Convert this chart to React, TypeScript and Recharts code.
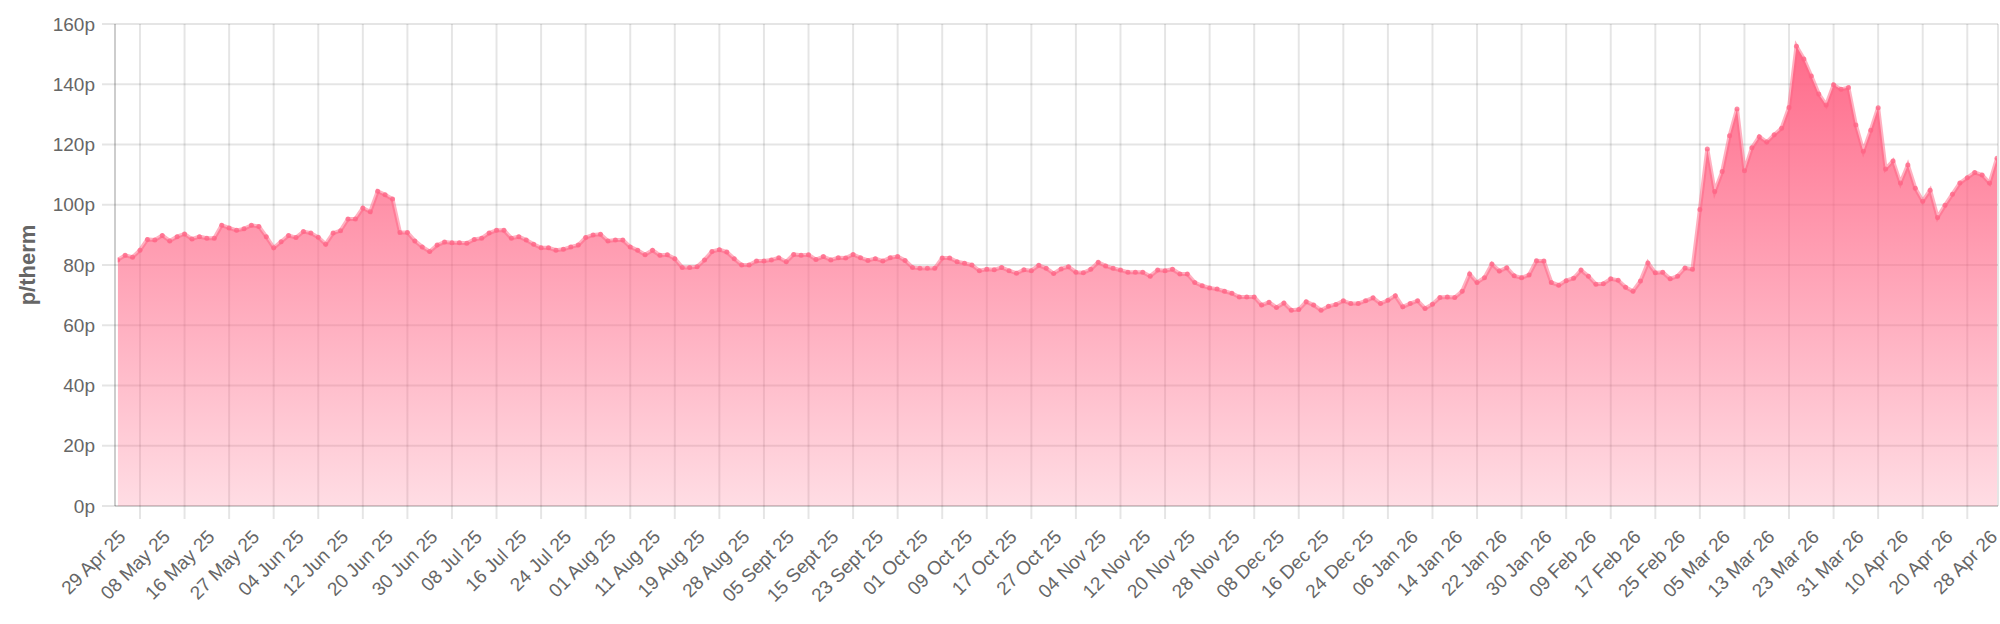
import React from 'react';
import { AreaChart, Area, XAxis, YAxis, CartesianGrid } from 'recharts';

// x-axis labels, one every LABEL_STEP trading days
const tickLabels = [
  '29 Apr 25', '08 May 25', '16 May 25', '27 May 25', '04 Jun 25', '12 Jun 25', '20 Jun 25',
  '30 Jun 25', '08 Jul 25', '16 Jul 25', '24 Jul 25', '01 Aug 25', '11 Aug 25', '19 Aug 25',
  '28 Aug 25', '05 Sept 25', '15 Sept 25', '23 Sept 25', '01 Oct 25', '09 Oct 25', '17 Oct 25',
  '27 Oct 25', '04 Nov 25', '12 Nov 25', '20 Nov 25', '28 Nov 25', '08 Dec 25', '16 Dec 25',
  '24 Dec 25', '06 Jan 26', '14 Jan 26', '22 Jan 26', '30 Jan 26', '09 Feb 26', '17 Feb 26',
  '25 Feb 26', '05 Mar 26', '13 Mar 26', '23 Mar 26', '31 Mar 26', '10 Apr 26', '20 Apr 26',
  '28 Apr 26',
];
const LABEL_STEP = 6;

// daily price, p/therm
const prices = [
  81.7, 83.2, 82.6, 84.9, 88.5, 88.3, 89.8, 88.0, 89.4, 90.3,
  88.6, 89.4, 88.9, 88.9, 93.2, 92.3, 91.5, 92.0, 93.2, 92.8,
  89.4, 85.7, 87.7, 89.8, 89.1, 91.1, 90.6, 89.2, 86.9, 90.6,
  91.4, 95.3, 95.3, 98.9, 97.7, 104.5, 103.3, 101.9, 90.8, 90.8,
  88.0, 86.0, 84.5, 86.6, 87.6, 87.4, 87.4, 87.2, 88.5, 88.9,
  90.6, 91.5, 91.5, 88.9, 89.4, 88.3, 86.9, 85.7, 85.7, 84.9,
  85.2, 86.0, 86.6, 89.1, 90.0, 90.2, 88.0, 88.3, 88.3, 86.0,
  84.9, 83.4, 84.9, 83.2, 83.4, 82.1, 79.2, 79.2, 79.4, 81.7,
  84.5, 85.1, 84.3, 82.1, 80.0, 80.0, 81.3, 81.3, 81.7, 82.4,
  81.1, 83.5, 83.2, 83.4, 81.8, 82.8, 81.7, 82.4, 82.3, 83.5,
  82.4, 81.5, 82.1, 81.3, 82.4, 82.8, 81.5, 79.2, 78.9, 78.9,
  78.9, 82.3, 82.3, 81.1, 80.6, 80.0, 78.1, 78.6, 78.4, 79.2,
  78.1, 77.3, 78.4, 78.1, 79.9, 78.9, 77.2, 78.7, 79.4, 77.6,
  77.4, 78.6, 80.9, 79.7, 78.9, 78.3, 77.6, 77.6, 77.6, 76.3,
  78.3, 78.1, 78.6, 77.0, 77.0, 74.2, 73.1, 72.4, 72.0, 71.3,
  70.6, 69.4, 69.4, 69.4, 66.7, 67.6, 65.9, 67.4, 65.0, 65.2,
  67.8, 66.7, 65.0, 66.3, 66.9, 68.1, 67.2, 67.2, 68.1, 69.1,
  67.2, 68.3, 69.8, 66.1, 67.2, 68.1, 65.6, 67.0, 69.2, 69.4,
  69.2, 71.3, 77.0, 74.2, 75.8, 80.3, 78.0, 79.1, 76.4, 75.8,
  76.7, 81.4, 81.3, 74.2, 73.3, 74.8, 75.6, 78.3, 76.3, 73.6,
  73.8, 75.4, 74.9, 72.6, 71.3, 74.7, 80.7, 77.4, 77.6, 75.4,
  76.3, 79.0, 78.6, 98.4, 118.5, 104.4, 111.0, 122.9, 131.8, 111.3,
  118.9, 122.6, 120.8, 123.2, 125.4, 132.3, 152.6, 148.4, 142.7, 136.8,
  133.1, 139.8, 138.3, 138.9, 126.5, 117.8, 124.7, 132.2, 111.9, 114.5,
  107.2, 113.2, 105.5, 101.2, 104.8, 95.8, 99.8, 103.5, 107.2, 109.0,
  110.7, 109.9, 107.2, 115.4,
];

const yTicks = [0, 20, 40, 60, 80, 100, 120, 140, 160];

const data = prices.map((v, i) => ({ i, v }));
const labelTicks = tickLabels.map((_, k) => k * LABEL_STEP);
const gridTicks = tickLabels.slice(1).map((_, k) => k * LABEL_STEP + LABEL_STEP / 2);
const xDomain = [0, prices.length - 1];

const FONT = '"Liberation Sans", Arial, Helvetica, sans-serif';
const GRID = 'rgba(0,0,0,0.1)';
const TEXT = '#666';

const XTick = (props: any) => {
  const { x, y, payload } = props;
  const label = tickLabels[Math.round(payload.value / LABEL_STEP)];
  const ax = x + 9;
  const ay = y + 19;
  return (
    <text
      x={ax}
      y={ay}
      transform={`rotate(-45, ${ax}, ${ay})`}
      textAnchor="end"
      fill={TEXT}
      fontSize={19}
      fontFamily={FONT}
    >
      {label}
    </text>
  );
};

const NoLabel = () => <g />;

const YTitle = (props: any) => {
  const vb = props.viewBox || { x: 0, y: 0, height: 0 };
  const cx = vb.x + 27;
  const cy = vb.y + vb.height / 2;
  return (
    <text
      x={cx}
      y={cy}
      transform={`rotate(-90, ${cx}, ${cy})`}
      textAnchor="middle"
      dominantBaseline="central"
      fill={TEXT}
      fontSize={22}
      fontWeight="bold"
      fontFamily={FONT}
    >
      p/therm
    </text>
  );
};

export default function App() {
  return (
    <div style={{ position: 'absolute', left: 0, top: 0, width: 2000, height: 624, background: '#fff' }}>
      <AreaChart
        width={2000}
        height={624}
        data={data}
        margin={{ top: 24, right: 2, bottom: 0, left: 0 }}
      >
        <defs>
          <linearGradient id="gasFill" x1="0" y1="0" x2="0" y2="1">
            <stop offset="0%" stopColor="rgb(255,99,132)" stopOpacity={0.95} />
            <stop offset="100%" stopColor="rgb(255,99,132)" stopOpacity={0.22} />
          </linearGradient>
        </defs>
        <CartesianGrid xAxisId="grid" stroke={GRID} strokeWidth={2} />
        <XAxis
          xAxisId="grid"
          type="number"
          dataKey="i"
          domain={xDomain}
          ticks={gridTicks}
          interval={0}
          allowDataOverflow
          padding={{ left: 2.7, right: 1 }}
          height={13}
          tickSize={13}
          tick={<NoLabel />}
          axisLine={{ stroke: GRID, strokeWidth: 2 }}
          tickLine={{ stroke: GRID, strokeWidth: 2 }}
        />
        <XAxis
          xAxisId="lab"
          type="number"
          dataKey="i"
          domain={xDomain}
          ticks={labelTicks}
          interval={0}
          allowDataOverflow
          padding={{ left: 2.7, right: 1 }}
          height={105}
          tickSize={0}
          tickMargin={0}
          axisLine={false}
          tickLine={false}
          tick={<XTick />}
        />
        <YAxis
          type="number"
          domain={[0, 160]}
          ticks={yTicks}
          interval={0}
          width={115}
          tickSize={13}
          tickMargin={7}
          tickFormatter={(v: number) => `${v}p`}
          tick={{ fill: TEXT, fontSize: 19, fontFamily: FONT }}
          axisLine={{ stroke: GRID, strokeWidth: 2 }}
          tickLine={{ stroke: GRID, strokeWidth: 2 }}
          label={<YTitle />}
        />
        <Area
          xAxisId="lab"
          type="linear"
          dataKey="v"
          stroke="rgba(255,99,132,0.5)"
          strokeWidth={4}
          fill="url(#gasFill)"
          fillOpacity={1}
          dot={{ r: 2.5, fill: 'rgba(255,99,132,0.75)', stroke: 'none', strokeWidth: 0 }}
          activeDot={false}
          isAnimationActive={false}
        />
      </AreaChart>
    </div>
  );
}
